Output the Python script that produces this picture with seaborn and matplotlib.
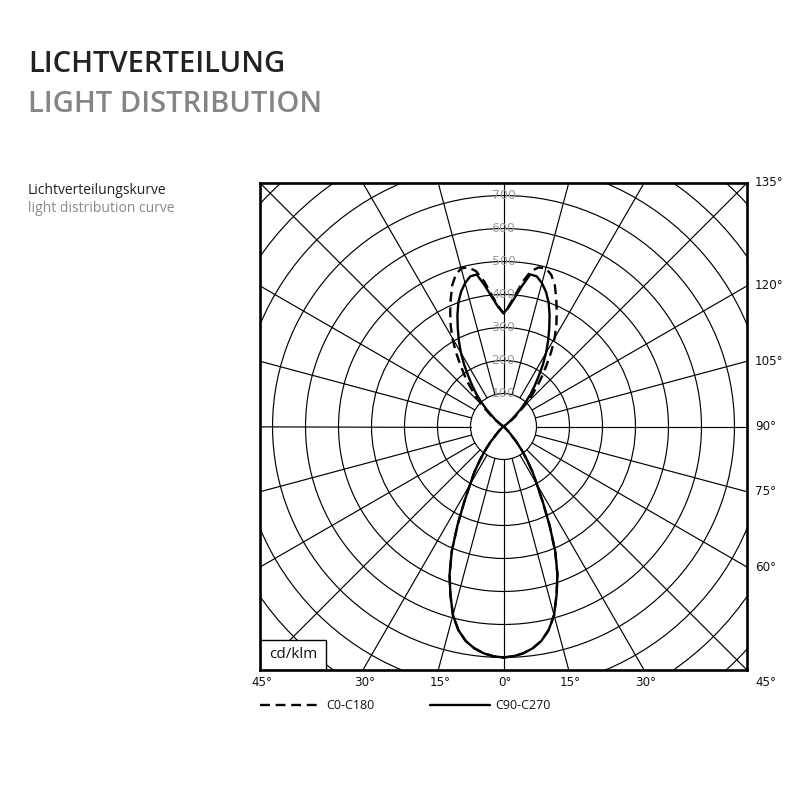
import numpy as np
import pandas as pd
import matplotlib
matplotlib.use("Agg")
import matplotlib.pyplot as plt
import seaborn as sns
from matplotlib.patches import Circle, Rectangle
from matplotlib.transforms import blended_transform_factory

# ---------------- data (cd/klm, gamma measured from nadir) ----------------
gamma = [0, 2.5, 5, 7.5, 10, 12.5, 15, 17.5, 20, 22.5, 25, 27.5, 30, 32.5, 35,
         37.5, 40, 45, 50, 60, 90, 120, 125, 130, 135, 137.5, 140, 142.5, 145,
         147.5, 150, 152.5, 155, 157.5, 160, 162.5, 165, 167.5, 170, 172.5,
         175, 177.5, 180]
c0_c180 = [700, 697, 690, 678, 660, 632, 592, 535, 478, 410, 330, 258, 202, 165, 125,
           92, 62, 22, 5, 0, 0, 0, 12, 45, 95, 125, 158, 192, 228,
           270, 310, 347, 382, 418, 455, 482, 496, 494, 478, 442,
           398, 365, 343]
c90_c270 = [700, 697, 690, 678, 660, 632, 592, 535, 478, 410, 330, 258, 202, 165, 125,
            92, 62, 22, 5, 0, 0, 0, 8, 32, 72, 98, 127, 155, 185,
            222, 258, 293, 328, 365, 400, 428, 450, 466, 468, 430,
            392, 362, 343]
plane_names = ["C0-C180", "C90-C270"]

ring_labels = [100, 200, 300, 400, 500, 600, 700]
grid_rings = [100, 200, 300, 400, 500, 600, 700, 800, 900, 1000, 1100]
spoke_angles = list(range(0, 360, 15))
bottom_angles = [-45, -30, -15, 0, 15, 30]
bottom_labels = ["45°", "30°", "15°", "0°", "15°", "30°"]
right_angles = [60, 75, 90, 105, 120, 135]
right_labels = ["60°", "75°", "90°", "105°", "120°", "135°"]
corner_label = "45°"

LIM = 738.0


def outline(values):
    g = np.radians(gamma)
    v = np.asarray(values, dtype=float)
    x_r, y_r = v * np.sin(g), -v * np.cos(g)
    x = np.concatenate([x_r, (-x_r)[::-1]])
    y = np.concatenate([y_r, y_r[::-1]])
    return x, y


frames = []
for name, vals in zip(plane_names, [c0_c180, c90_c270]):
    x, y = outline(vals)
    frames.append(pd.DataFrame({"x": x, "y": y, "plane": name}))
df = pd.concat(frames, ignore_index=True)

# ---------------- figure ----------------
sns.set_style("white")
plt.rcParams["font.family"] = ["DejaVu Sans"]

fig = plt.figure(figsize=(8, 8), dpi=100)
ax = fig.add_axes([260 / 800, 130 / 800, 487 / 800, 487 / 800])
ax.set_xlim(-LIM, LIM)
ax.set_ylim(-LIM, LIM)
ax.set_aspect("equal")

# grid rings and spokes
for r in grid_rings:
    ax.add_patch(Circle((0, 0), r, fill=False, ec="black", lw=0.85, zorder=1))
for a in spoke_angles:
    t = np.radians(a)
    ax.plot([100 * np.sin(t), 1100 * np.sin(t)], [-100 * np.cos(t), -1100 * np.cos(t)],
            color="black", lw=0.85, zorder=1)

# curves
sns.lineplot(data=df, x="x", y="y", style="plane", style_order=plane_names,
             dashes={"C0-C180": (4.2, 2.4), "C90-C270": ""},
             sort=False, estimator=None, color="black", linewidth=1.7,
             ax=ax, zorder=3)

# ring value labels
for r in ring_labels:
    ax.text(0, r, str(r), ha="center", va="center", fontsize=9,
            color="#9c9c9c", zorder=4)

# unit box
ax.add_patch(Rectangle((0, 0), 66 / 487, 30 / 487, transform=ax.transAxes,
                       fc="white", ec="black", lw=1.0, zorder=5))
ax.text(33 / 487, 15 / 487, "cd/klm", transform=ax.transAxes, ha="center",
        va="center", fontsize=11, family="Open Sans", color="#111111", zorder=6)

# angle labels
tb = blended_transform_factory(ax.transData, ax.transAxes)
for a, lab in zip(bottom_angles, bottom_labels):
    ax.text(LIM * np.tan(np.radians(a)) + 5, -12 / 487, lab, transform=tb,
            ha="center", va="center", fontsize=8.6, color="#111111")
tr = blended_transform_factory(ax.transAxes, ax.transData)
for a, lab in zip(right_angles, right_labels):
    t = np.radians(a)
    ax.text(1 + 8 / 487, -LIM * np.cos(t) / np.sin(t), lab, transform=tr,
            ha="left", va="center", fontsize=8.6, color="#111111")
ax.text(1 + 8 / 487, -12 / 487, corner_label, transform=ax.transAxes,
        ha="left", va="center", fontsize=8.6, color="#111111")

# frame
ax.set_xticks([])
ax.set_yticks([])
ax.set(xlabel="", ylabel="")
for s in ax.spines.values():
    s.set_visible(True)
    s.set_color("black")
    s.set_linewidth(1.9)
    s.set_zorder(7)

# legend
sns.move_legend(ax, loc="upper left", bbox_to_anchor=(0, -0.06), ncol=2,
                frameon=False, title=None, handlelength=4.8, handletextpad=0.5,
                columnspacing=4.4, borderpad=0, borderaxespad=0,
                prop={"family": "Open Sans", "size": 9})
for t in ax.get_legend().get_texts():
    t.set_color("#111111")

# titles
fig.text(28 / 800, 1 - 71.5 / 800, "LICHTVERTEILUNG", fontsize=21,
         family="Open Sans", fontweight="semibold", color="#222222", va="baseline")
fig.text(28 / 800, 1 - 111.5 / 800, "LIGHT DISTRIBUTION", fontsize=21,
         family="Open Sans", fontweight="semibold", color="#858585", va="baseline")
fig.text(28 / 800, 1 - 193.5 / 800, "Lichtverteilungskurve", fontsize=10,
         family="Open Sans", color="#222222", va="baseline")
fig.text(28 / 800, 1 - 211.5 / 800, "light distribution curve", fontsize=10,
         family="Open Sans", color="#8a8a8a", va="baseline")

fig.savefig("out.png", dpi=100)
